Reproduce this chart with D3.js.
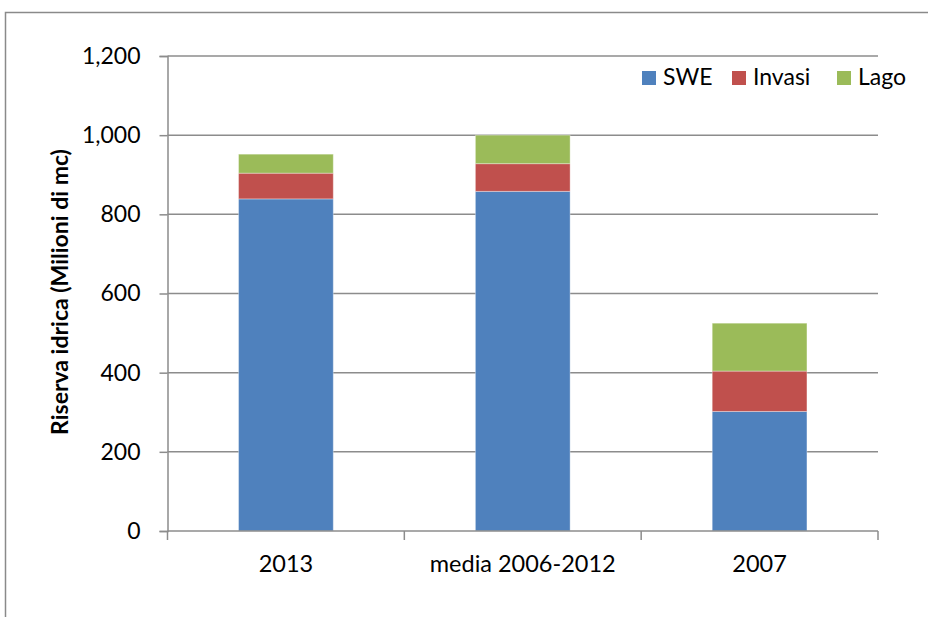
<!DOCTYPE html>
<html><head><meta charset="utf-8">
<script src="https://cdn.jsdelivr.net/npm/d3@7"></script>
<style>
html,body{margin:0;padding:0;background:#fff;}
svg{display:block;font-family:Lato,"Open Sans",sans-serif;}
</style></head>
<body><svg id="c" width="928" height="617"></svg>
<script>
const categories = ["2013", "media 2006-2012", "2007"];
const seriesNames = ["SWE", "Invasi", "Lago"];
const sweValues = [839, 858, 302];
const invasiValues = [65, 70, 102];
const lagoValues = [48, 72, 121];
const yTicks = [0, 200, 400, 600, 800, 1000, 1200];
const colors = ["#4F81BD", "#C0504D", "#9BBB59"];
const yTitle = "Riserva idrica (Milioni di mc)";

const svg = d3.select("#c");
const m = {l:167.5, r:878, t:56, b:531};

// outer frame
svg.append("path").attr("d","M5.5,617 V12.5 H928").attr("fill","none").attr("stroke","#8a8a8a").attr("stroke-width",1.5);

const x = d3.scaleBand().domain(categories).range([m.l, m.r]).paddingInner(0.6).paddingOuter(0.3);
const y = d3.scaleLinear().domain([0,1200]).range([m.b, m.t]);

// gridlines
svg.append("g").selectAll("line").data(yTicks.filter(d=>d>0)).join("line")
  .attr("x1", m.l).attr("x2", m.r).attr("y1", d=>y(d)).attr("y2", d=>y(d))
  .attr("stroke","#8c8c8c").attr("stroke-width",1.5);

// stacked bars
const rows = categories.map((c,i)=>({cat:c, SWE:sweValues[i], Invasi:invasiValues[i], Lago:lagoValues[i]}));
const stack = d3.stack().keys(seriesNames)(rows);
svg.append("g").selectAll("g").data(stack).join("g")
  .attr("fill",(d,i)=>colors[i])
  .selectAll("rect").data(d=>d).join("rect")
  .attr("x", d=>x(d.data.cat)).attr("width", x.bandwidth())
  .attr("y", d=>y(d[1])).attr("height", d=>y(d[0])-y(d[1]))
  .attr("stroke","rgba(255,255,255,0.35)").attr("stroke-width",1);

// y axis
const ya = svg.append("g").attr("transform",`translate(${m.l},0)`)
  .call(d3.axisLeft(y).tickValues(yTicks).tickSize(8).tickPadding(19).tickFormat(d3.format(",")));
ya.select(".domain").attr("stroke","#8c8c8c").attr("stroke-width",1.5);
ya.selectAll(".tick line").attr("stroke","#8c8c8c").attr("stroke-width",1.5);
ya.selectAll("text").attr("font-size",23).attr("fill","#000").attr("font-family","Lato,sans-serif");

// x axis
const xa = svg.append("g").attr("transform",`translate(0,${m.b})`)
  .call(d3.axisBottom(x).tickSize(0).tickPadding(24));
xa.select(".domain").remove();
svg.append("line").attr("x1",m.l).attr("x2",m.r).attr("y1",m.b).attr("y2",m.b).attr("stroke","#8c8c8c").attr("stroke-width",1.5);
const step = x.step();
const xt = [m.l, m.l+step, m.l+2*step, m.r];
svg.append("g").selectAll("line").data(xt).join("line")
  .attr("x1",d=>d).attr("x2",d=>d).attr("y1",m.b).attr("y2",m.b+9)
  .attr("stroke","#8c8c8c").attr("stroke-width",1.5);
xa.selectAll("text").attr("font-size",23.5).attr("fill","#000").attr("font-family","Lato,sans-serif");

// y title
svg.append("text").attr("transform",`translate(68,292) rotate(-90)`)
  .attr("text-anchor","middle").attr("font-size",23).attr("font-weight","bold")
  .attr("fill","#000").text(yTitle);

// legend
const legX = [642, 732, 837];
const lg = svg.append("g").selectAll("g").data(seriesNames).join("g")
  .attr("transform",(d,i)=>`translate(${legX[i]},71)`);
lg.append("rect").attr("width",14).attr("height",14).attr("fill",(d,i)=>colors[i]);
lg.append("text").attr("x",21).attr("y",14).attr("font-size",23).attr("fill","#000").text(d=>d);
</script></body></html>
